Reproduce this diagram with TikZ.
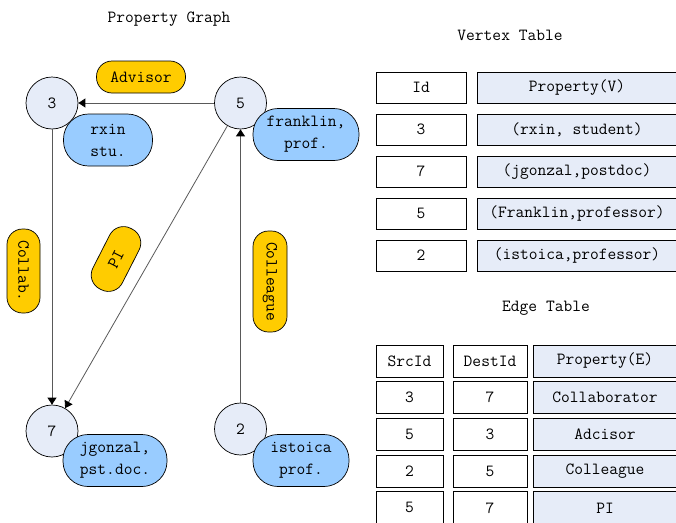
\documentclass[tikz,border=0pt]{standalone}
\usepackage{fontspec}
\usepackage{xcolor}
\usepackage{tikz}
\usetikzlibrary{arrows.meta}

\definecolor{vertexfill}{HTML}{E6ECF8}
\definecolor{propblue}{HTML}{99CCFF}
\definecolor{edgeyellow}{HTML}{FFCC00}

\tikzset{
    txt/.style={font=\ttfamily\fontsize{17}{22}\selectfont},
    vertex/.style={draw, circle, fill=vertexfill, minimum size=52pt, inner sep=0pt, line width=0.7pt, txt},
    vprop/.style={draw, rectangle, rounded corners=25pt, fill=propblue, inner sep=0pt, align=center, minimum height=52pt, line width=0.7pt, txt},
    elabel/.style={draw, rectangle, rounded corners=15.5pt, fill=edgeyellow, inner sep=0pt, minimum height=33pt, line width=0.7pt, txt},
    cell/.style={draw, rectangle, inner sep=0pt, minimum height=31pt, line width=0.8pt, txt},
    edge/.style={draw=black!65, line width=0.8pt, -{Triangle[width=9pt, length=7pt, color=black]}},
}

\begin{document}
\begin{tikzpicture}[x=1pt, y=-1pt]
    \useasboundingbox (0,0) rectangle (676,522);
    \clip (0,0) rectangle (676,522);

    % property graph
    \node[txt] at (169, 19) (gtitle) {Property Graph};

    \node[vertex] at (52, 103) (v3) {3};
    \node[vertex] at (240.5, 103) (v5) {5};
    \node[vertex] at (52, 431) (v7) {7};
    \node[vertex] at (240.5, 429) (v2) {2};

    \node[vprop, minimum width=89pt] at (108, 140) (p3) {rxin\\stu.};
    \node[vprop, minimum width=106pt] at (306, 134.5) (p5) {franklin,\\prof.};
    \node[vprop, minimum width=104pt] at (115, 460.5) (p7) {jgonzal,\\pst.doc.};
    \node[vprop, minimum width=96pt] at (301, 460.5) (p2) {istoica\\prof.};

    \draw[edge] (v5) -- (v3);
    \draw[edge] (v3) -- (v7);
    \draw[edge] (v5) -- (v7);
    \draw[edge] (v2) -- (v5);

    \node[elabel, minimum width=89pt, minimum height=32pt] at (141, 77) (advisor) {Advisor};
    \node[elabel, minimum width=84pt, rotate=-90] at (23.5, 271) (collab) {Collab.};
    \node[elabel, minimum width=101pt, minimum height=34pt, rotate=-90] at (270, 281.5) (colleague) {Colleague};
    \node[elabel, minimum width=68pt, rotate=63] at (116, 259) (pi) {PI};

    % vertex table
    \node[txt] at (510, 35) (vtitle) {Vertex Table};
    \foreach \id/\prop [count=\i from 0] in {Id/Property(V), 3/{(rxin, student)}, 7/{(jgonzal,postdoc)}, 5/{(Franklin,professor)}, 2/{(istoica,professor)}} {
        \node[cell, minimum width=90pt] at (421, 87.5+42*\i) (vid\i) {\id};
        \node[cell, fill=vertexfill, minimum width=200pt] at (577, 87.5+42*\i) (vprop\i) {\prop};
    }

    % edge table
    \node[txt] at (546, 308) (etitle) {Edge Table};
    \foreach \src/\dst/\prop [count=\i from 0] in {SrcId/DestId/Property(E), 3/7/Collaborator, 5/3/Adcisor, 2/5/Colleague, 5/7/PI} {
        \node[cell, minimum width=67pt, minimum height=32pt] at (409.5, 361+36.7*\i) (esrc\i) {\src};
        \node[cell, minimum width=74pt, minimum height=32pt] at (490, 361+36.7*\i) (edst\i) {\dst};
        \node[cell, fill=vertexfill, minimum width=144pt, minimum height=32pt] at (605, 361+36.7*\i) (eprop\i) {\prop};
    }
\end{tikzpicture}
\end{document}
